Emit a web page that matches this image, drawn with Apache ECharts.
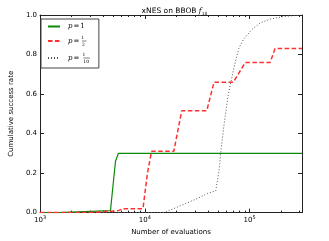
<!DOCTYPE html>
<html>
<head>
<meta charset="utf-8">
<script src="https://cdn.jsdelivr.net/npm/echarts@6/dist/echarts.min.js"></script>
<style>html,body{margin:0;padding:0;background:#fff}#c{width:329px;height:241px}</style>
</head>
<body>
<div id="c"></div>
<script>
const seriesNames = ['p=1', 'p=1/2', 'p=1/10'];
const greenX = [1000, 1500, 1510, 4700, 5250, 5600, 316228];
const greenY = [0, 0, 0.01, 0.01, 0.26, 0.30, 0.30];
const redX = [1000, 2950, 3050, 5600, 6200, 9600, 10600, 11600, 18900, 22500, 39000, 45700, 70000, 91000, 157000, 175000, 316228];
const redY = [0, 0, 0.01, 0.01, 0.02, 0.02, 0.2, 0.31, 0.31, 0.515, 0.515, 0.66, 0.66, 0.76, 0.76, 0.83, 0.83];
const grayX = [1000, 15300, 22200, 32800, 39900, 47500, 49500, 51000, 52900, 56900, 62000, 70600, 78700, 87700, 105400, 126200, 157000, 209600, 280000, 316228];
const grayY = [0, 0, 0.036, 0.075, 0.098, 0.11, 0.12, 0.21, 0.30, 0.44, 0.585, 0.73, 0.83, 0.878, 0.927, 0.96, 0.979, 0.992, 0.998, 1.0];
const xMajorTicks = [1000, 10000, 100000];
const xMinorTicks = [2000,3000,4000,5000,6000,7000,8000,9000,20000,30000,40000,50000,60000,70000,80000,90000,200000,300000];
const yTicks = [0, 0.2, 0.4, 0.6, 0.8, 1.0];
const xMin = 1000, xMax = 316228;

const zip = (xs, ys) => xs.map((x, i) => [x, ys[i]]);
const frame = '#222';
const sans = 'DejaVu Sans';
const serif = 'DejaVu Serif';

const legendLabels = {
  'p=1': '{p|p}{eq|=}{n|1}',
  'p=1/2': '{p|p}{eq|=}{num|1}{den|2}{bar| }',
  'p=1/10': '{p|p}{eq|=}{num2|1}{den|10}{bar2| }'
};

const lg = Math.log10;
const isMajor = v => xMajorTicks.some(t => Math.abs(t - v) / t < 1e-6);
const chart = echarts.init(document.getElementById('c'), null, {renderer: 'canvas'});
chart.setOption({
  animation: false,
  backgroundColor: '#fff',
  title: {
    text: 'xNES on BBOB {f|f}{s|18}',
    left: 169.5, textAlign: 'center', top: 2,
    textStyle: {
      fontFamily: sans, fontSize: 7.5, fontWeight: 'normal', color: '#000',
      rich: {
        f: {fontFamily: serif, fontStyle: 'italic', fontSize: 7.5, color: '#000'},
        s: {fontFamily: serif, fontSize: 4.5, padding: [4, 0, 0, 0], color: '#000'}
      }
    }
  },
  grid: {left: 37, right: 27, top: 15, bottom: 21, containLabel: false},
  legend: {
    left: 41, top: 19, orient: 'vertical',
    data: seriesNames,
    itemWidth: 12, itemHeight: 6, itemGap: 5, padding: [4, 9, 4, 6],
    borderColor: '#444', borderWidth: 1, backgroundColor: '#fff',
    itemStyle: {opacity: 0},
    formatter: name => legendLabels[name],
    textStyle: {
      fontFamily: serif, fontSize: 7, color: '#000', padding: [0, 0, 0, 3],
      rich: {
        p: {fontFamily: serif, fontStyle: 'italic', fontSize: 7, color: '#000'},
        eq: {fontFamily: serif, fontSize: 7, padding: [0, 1, 0, 1], color: '#000'},
        n: {fontFamily: serif, fontSize: 7, color: '#000'},
        num: {fontFamily: serif, fontSize: 4.5, width: 0.01, align: 'left', padding: [0, 0, 7, 0.8], color: '#000'},
        den: {fontFamily: serif, fontSize: 4.5, width: 0.01, align: 'left', padding: [7, 0, 0, 0.8], color: '#000'},
        bar: {width: 4.5, height: 0.5, backgroundColor: '#000', fontSize: 1},
        num2: {fontFamily: serif, fontSize: 4.5, width: 0.01, align: 'left', padding: [0, 0, 7, 2.2], color: '#000'},
        bar2: {width: 6.5, height: 0.5, backgroundColor: '#000', fontSize: 1}
      }
    }
  },
  xAxis: [
    {
      type: 'log', logBase: 10, min: xMin, max: xMax, position: 'bottom', gridIndex: 0,
      axisLine: {show: true, onZero: false, lineStyle: {color: frame, width: 1}},
      axisTick: {show: true, inside: true, length: 4, lineStyle: {color: frame}},
      axisLabel: {
        show: true, margin: 3, color: '#000', fontFamily: sans, fontSize: 7,
        formatter: v => isMajor(v) ? '10{s|' + Math.round(lg(v)) + '}' : '',
        rich: {s: {fontFamily: sans, fontSize: 5, padding: [0, 0, 5, 0], color: '#000'}}
      },
      splitLine: {show: false},
      name: 'Number of evaluations', nameLocation: 'middle', nameGap: 12,
      nameTextStyle: {fontFamily: sans, fontSize: 7, color: '#000'}
    },
    {
      type: 'log', logBase: 10, min: xMin, max: xMax, position: 'top', gridIndex: 0,
      axisLine: {show: true, onZero: false, lineStyle: {color: frame, width: 1}},
      axisTick: {show: true, inside: true, length: 4, lineStyle: {color: frame}},
      axisLabel: {show: false}, splitLine: {show: false}
    },
    {
      type: 'value', min: lg(xMin), max: lg(xMax), position: 'bottom', gridIndex: 0,
      axisLine: {show: false, onZero: false},
      axisTick: {show: true, inside: true, length: 2, customValues: xMinorTicks.map(lg), lineStyle: {color: frame}},
      axisLabel: {show: false}, splitLine: {show: false}
    },
    {
      type: 'value', min: lg(xMin), max: lg(xMax), position: 'top', gridIndex: 0,
      axisLine: {show: false, onZero: false},
      axisTick: {show: true, inside: true, length: 2, customValues: xMinorTicks.map(lg), lineStyle: {color: frame}},
      axisLabel: {show: false}, splitLine: {show: false}
    }
  ],
  yAxis: [
    {
      type: 'value', min: 0, max: 1, interval: 0.2, position: 'left',
      axisLine: {show: true, onZero: false, lineStyle: {color: frame, width: 1}},
      axisTick: {show: true, inside: true, length: 4, lineStyle: {color: frame}},
      axisLabel: {show: true, margin: 3, color: '#000', fontFamily: sans, fontSize: 7, formatter: v => v.toFixed(1)},
      splitLine: {show: false},
      name: 'Cumulative success rate', nameLocation: 'middle', nameGap: 20, nameRotate: 90,
      nameTextStyle: {fontFamily: sans, fontSize: 7, color: '#000'}
    },
    {
      type: 'value', min: 0, max: 1, interval: 0.2, position: 'right',
      axisLine: {show: true, onZero: false, lineStyle: {color: frame, width: 1}},
      axisTick: {show: true, inside: true, length: 4, lineStyle: {color: frame}},
      axisLabel: {show: false}, splitLine: {show: false}
    }
  ],
  series: [
    {
      name: seriesNames[0], type: 'line', xAxisIndex: 0, yAxisIndex: 0,
      data: zip(greenX, greenY), symbol: 'none', clip: true, z: 3,
      lineStyle: {color: '#0a8a0a', width: 1.2, type: 'solid'}, itemStyle: {color: '#0a8a0a'}
    },
    {
      name: seriesNames[1], type: 'line', xAxisIndex: 0, yAxisIndex: 0,
      data: zip(redX, redY), symbol: 'none', clip: true, z: 4,
      lineStyle: {color: '#ff3030', width: 1.5, type: [4.5, 2.5]}, itemStyle: {color: '#ff3030'}
    },
    {
      name: seriesNames[2], type: 'line', xAxisIndex: 0, yAxisIndex: 0,
      data: zip(grayX, grayY), symbol: 'none', clip: true, z: 2,
      lineStyle: {color: '#555', width: 1, type: [1, 2]}, itemStyle: {color: '#555'}
    }
  ]
});
</script>
</body>
</html>
